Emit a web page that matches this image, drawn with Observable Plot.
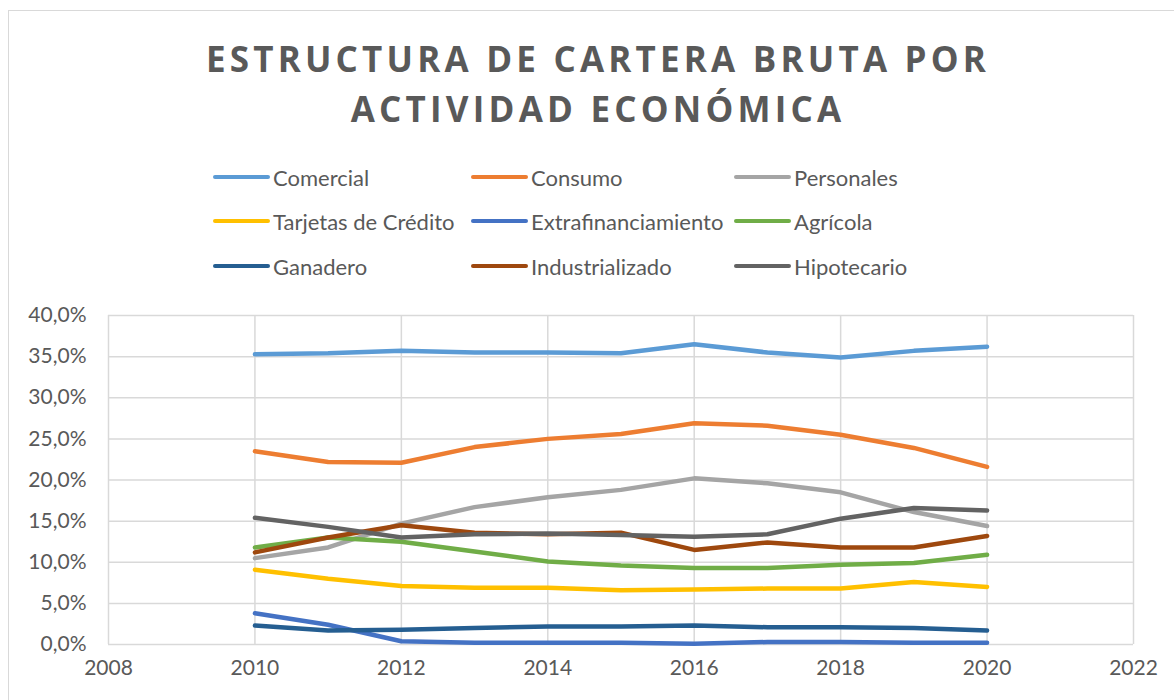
<!DOCTYPE html>
<html>
<head>
<meta charset="utf-8">
<script src="https://cdn.jsdelivr.net/npm/d3@7"></script>
<script src="https://cdn.jsdelivr.net/npm/@observablehq/plot@0.6"></script>
<style>
  html, body { margin: 0; padding: 0; background: #fff; }
  #wrap { position: relative; width: 1174px; height: 700px; overflow: hidden; font-family: Lato, "Open Sans", sans-serif; color: #595959; }
  #border { position: absolute; left: 8px; top: 10px; width: 1200px; height: 800px; border: 1.5px solid #D9D9D9; box-sizing: border-box; }
  #title { position: absolute; left: 11px; width: 1174px; top: 34px; text-align: center; font-family: "Open Sans", sans-serif; font-weight: 700; font-size: 35px; letter-spacing: 4.2px; line-height: 50px; color: #595959; }
  .leg { position: absolute; display: flex; align-items: center; font-size: 22px; white-space: nowrap; }
  .sw { width: 57px; height: 4.5px; border-radius: 2px; margin-right: 3px; }
  #chart { position: absolute; left: 0; top: 290px; }
</style>
</head>
<body>
<div id="wrap">
  <div id="border"></div>
  <div id="title">ESTRUCTURA DE CARTERA BRUTA POR<br>ACTIVIDAD ECONÓMICA</div>
  <div id="legend"></div>
  <div id="chart"></div>
</div>
<script>
const years = [2010, 2011, 2012, 2013, 2014, 2015, 2016, 2017, 2018, 2019, 2020];
const seriesNames = ["Comercial", "Consumo", "Personales", "Tarjetas de Crédito", "Extrafinanciamiento", "Agrícola", "Ganadero", "Industrializado", "Hipotecario"];
const seriesColors = ["#5B9BD5", "#ED7D31", "#A5A5A5", "#FFC000", "#4472C4", "#70AD47", "#255E91", "#9E480E", "#636363"];

const comercial         = [35.3, 35.4, 35.7, 35.5, 35.5, 35.4, 36.5, 35.5, 34.9, 35.7, 36.2];
const consumo           = [23.5, 22.2, 22.1, 24.0, 25.0, 25.6, 26.9, 26.6, 25.5, 23.9, 21.6];
const personales        = [10.5, 11.8, 14.7, 16.7, 17.9, 18.8, 20.2, 19.6, 18.5, 16.1, 14.4];
const tarjetas          = [9.1, 8.0, 7.1, 6.9, 6.9, 6.6, 6.7, 6.8, 6.8, 7.6, 7.0];
const extrafinanciam    = [3.8, 2.4, 0.4, 0.2, 0.2, 0.2, 0.1, 0.3, 0.3, 0.2, 0.2];
const agricola          = [11.8, 13.0, 12.5, 11.3, 10.1, 9.6, 9.3, 9.3, 9.7, 9.9, 10.9];
const ganadero          = [2.3, 1.7, 1.8, 2.0, 2.2, 2.2, 2.3, 2.1, 2.1, 2.0, 1.7];
const industrializado   = [11.2, 13.0, 14.5, 13.6, 13.4, 13.6, 11.5, 12.4, 11.8, 11.8, 13.2];
const hipotecario       = [15.4, 14.3, 13.0, 13.4, 13.5, 13.3, 13.1, 13.4, 15.3, 16.6, 16.3];

const allSeries = [comercial, consumo, personales, tarjetas, extrafinanciam, agricola, ganadero, industrializado, hipotecario];

const xTicks = [2008, 2010, 2012, 2014, 2016, 2018, 2020, 2022];
const yTicks = [0, 0.05, 0.10, 0.15, 0.20, 0.25, 0.30, 0.35, 0.40];

const data = [];
seriesNames.forEach((name, i) => {
  years.forEach((yr, j) => data.push({ serie: name, year: yr, value: allSeries[i][j] / 100 }));
});

const loc = d3.formatLocale({ decimal: ",", thousands: ".", grouping: [3], currency: ["", "€"] });
const pct = loc.format(".1%");

// Legend
const legX = [213, 471, 734];
const legY = [177, 221, 266];
const legend = document.getElementById("legend");
seriesNames.forEach((name, i) => {
  const d = document.createElement("div");
  d.className = "leg";
  d.style.left = legX[i % 3] + "px";
  d.style.top = (legY[Math.floor(i / 3)] - 14) + "px";
  d.style.height = "28px";
  d.innerHTML = `<span class="sw" style="background:${seriesColors[i]}"></span><span>${name}</span>`;
  legend.appendChild(d);
});

const chart = Plot.plot({
  width: 1174,
  height: 410,
  marginTop: 25,
  marginBottom: 56,
  marginLeft: 108,
  marginRight: 41,
  style: { fontFamily: "Lato, 'Open Sans', sans-serif", fontSize: "21px", color: "#595959", background: "transparent" },
  x: { domain: [2008, 2022], ticks: xTicks, tickFormat: d => String(d), label: null, tickSize: 0, tickPadding: 16 },
  y: { domain: [0, 0.40], ticks: yTicks, tickFormat: pct, label: null, tickSize: 0, tickPadding: 22 },
  color: { domain: seriesNames, range: seriesColors },
  marks: [
    Plot.gridX(xTicks, { stroke: "#D9D9D9", strokeOpacity: 1, strokeWidth: 1.5 }),
    Plot.gridY(yTicks, { stroke: "#D9D9D9", strokeOpacity: 1, strokeWidth: 1.5 }),
    Plot.axisX({ ticks: xTicks, tickFormat: d => String(d), tickSize: 0, tickPadding: 16, fill: "#595959" }),
    Plot.axisY({ ticks: yTicks, tickFormat: pct, tickSize: 0, tickPadding: 22, fill: "#595959" }),
    Plot.line(data, { x: "year", y: "value", z: "serie", stroke: "serie", strokeWidth: 4.5, strokeLinecap: "round", strokeLinejoin: "round" })
  ]
});
document.getElementById("chart").appendChild(chart);
</script>
</body>
</html>
